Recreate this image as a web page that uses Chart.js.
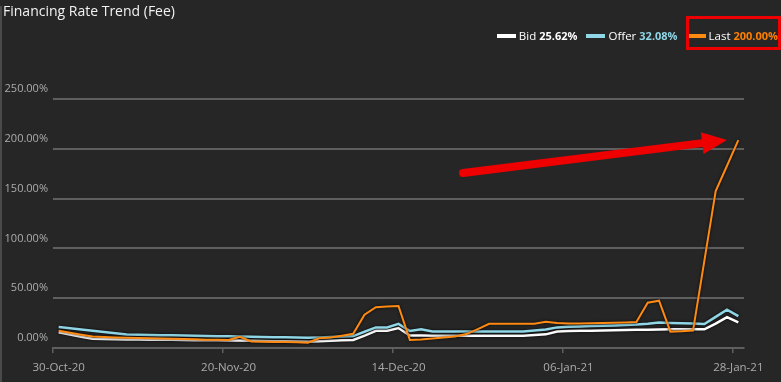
<!DOCTYPE html>
<html>
<head>
<meta charset="utf-8">
<title>Financing Rate Trend (Fee)</title>
<script src="https://cdn.jsdelivr.net/npm/chart.js@4.4.1/dist/chart.umd.min.js"></script>
<style>
  html, body { margin: 0; padding: 0; background: #262626; }
  #wrap { position: relative; width: 781px; height: 382px; overflow: hidden; background: #262626;
          font-family: "Open Sans", "Noto Sans", sans-serif; }
  #edge { position: absolute; left: 0; top: 6px; bottom: 0; width: 2px; background: #4a4a4a; }
  #title { position: absolute; left: 3px; top: 1px; color: #f2f2f2; font-size: 14px; line-height: 20px; }
  #legend { position: absolute; right: 3px; top: 27px; display: flex; align-items: center;
            font-size: 11.5px; line-height: 18px; color: #fff; }
  .item { display: flex; align-items: center; margin-left: 9px; }
  .swatch { width: 19px; height: 4px; margin-right: 3px; }
  .val { font-weight: bold; font-size: 11px; margin-left: 3px; }
  #redbox { position: absolute; left: 686px; top: 16px; width: 95px; height: 34px;
            border: 3px solid #ee0000; box-sizing: border-box; }
  canvas { position: absolute; left: 0; top: 0; }
</style>
</head>
<body>
<div id="wrap">
  <canvas id="rateChart" width="781" height="382"></canvas>
  <div id="edge"></div>
  <div id="title">Financing Rate Trend (Fee)</div>
  <div id="legend"></div>
  <div id="redbox"></div>
</div>
<script>
/* ── DATA ── */
const dates = [
  "30-Oct-20","02-Nov-20","03-Nov-20","04-Nov-20","05-Nov-20","06-Nov-20","09-Nov-20","10-Nov-20",
  "11-Nov-20","12-Nov-20","13-Nov-20","16-Nov-20","17-Nov-20","18-Nov-20","19-Nov-20","20-Nov-20",
  "23-Nov-20","24-Nov-20","25-Nov-20","27-Nov-20","30-Nov-20","01-Dec-20","02-Dec-20","03-Dec-20",
  "04-Dec-20","07-Dec-20","08-Dec-20","09-Dec-20","10-Dec-20","11-Dec-20","14-Dec-20","15-Dec-20",
  "16-Dec-20","17-Dec-20","18-Dec-20","21-Dec-20","22-Dec-20","23-Dec-20","24-Dec-20","28-Dec-20",
  "29-Dec-20","30-Dec-20","31-Dec-20","04-Jan-21","05-Jan-21","06-Jan-21","07-Jan-21","08-Jan-21",
  "11-Jan-21","12-Jan-21","13-Jan-21","14-Jan-21","15-Jan-21","19-Jan-21","20-Jan-21","21-Jan-21",
  "22-Jan-21","25-Jan-21","26-Jan-21","27-Jan-21","28-Jan-21"
];
const tickDates = ["30-Oct-20", "20-Nov-20", "14-Dec-20", "06-Jan-21", "28-Jan-21"];

const bid = [
  15.7, 13.5, 11.3, 9.2, 9.0, 8.8, 8.6, 8.5, 8.4, 8.3, 8.2, 8.0, 7.9, 7.8, 7.7, 7.6,
  7.5, 7.3, 7.1, 6.9, 6.7, 6.5, 6.3, 6.8, 7.3, 7.7, 8.0, 12.5, 17.3, 17.3, 20.0, 12.5,
  12.5, 12.3, 12.3, 12.3, 12.3, 12.3, 12.3, 12.3, 12.3, 12.3, 13.0, 13.7, 16.5, 17.0,
  17.2, 17.4, 17.6, 17.8, 18.0, 18.2, 18.4, 18.6, 18.7, 18.7, 18.7, 18.7, 24.5, 31.0, 25.62
];
const offer = [
  21.2, 19.9, 18.6, 17.3, 16.0, 14.7, 13.5, 13.3, 13.1, 12.9, 12.7, 12.5, 12.3, 12.1, 11.9, 11.7,
  11.5, 11.3, 11.1, 10.9, 10.7, 10.5, 10.3, 10.6, 11.0, 11.5, 12.0, 16.3, 20.7, 20.7, 24.2, 17.0,
  18.7, 16.5, 16.5, 16.5, 16.5, 16.5, 16.5, 16.5, 16.5, 16.5, 17.5, 18.5, 20.7, 21.3,
  21.7, 22.0, 22.3, 22.6, 23.0, 23.5, 24.3, 25.5, 25.2, 24.8, 24.5, 24.0, 31.3, 38.5, 32.08
];
const last = [
  17.3, 15.3, 13.3, 11.5, 11.0, 10.6, 10.3, 10.0, 9.7, 9.5, 9.2, 9.0, 8.7, 8.4, 8.2, 8.0,
  11.3, 6.5, 6.3, 6.1, 5.9, 5.7, 5.3, 9.7, 10.5, 12.3, 14.2, 33.5, 41.0, 41.6, 42.2, 8.0,
  8.5, 9.5, 10.5, 11.5, 14.0, 19.0, 24.3, 24.3, 24.3, 24.3, 24.3, 26.3, 25.0, 24.5,
  24.7, 24.9, 25.1, 25.4, 25.7, 26.2, 45.5, 47.5, 16.4, 16.8, 17.5, 87.5, 157.6, 183.0, 208.8
];

const seriesNames  = ["Bid", "Offer", "Last"];
const legendValues = ["25.62%", "32.08%", "200.00%"];
const lineColors   = ["#ffffff", "#8fd6e6", "#ff8a12"];
const valueColors  = ["#ffffff", "#8fd6e6", "#ff8000"];

// red annotation arrow (category index, percent)
const arrowFrom = [35.7, 175.7];
const arrowTo   = [59.0, 208.8];

/* ── LEGEND (html) ── */
const legend = document.getElementById("legend");
seriesNames.forEach((name, i) => {
    const item = document.createElement("div");
    item.className = "item";
    item.innerHTML = `<span class="swatch" style="background:${lineColors[i]}"></span>${name}<span class="val" style="color:${valueColors[i]}">${legendValues[i]}</span>`;
    legend.appendChild(item);
});

/* ── PLUGINS ── */
const lineShadow = {
    id: "lineShadow",
    beforeDatasetsDraw(chart) {
        const ctx = chart.ctx;
        ctx.save();
        ctx.shadowColor = "rgba(0,0,0,0.85)";
        ctx.shadowBlur = 3;
    },
    afterDatasetsDraw(chart) { chart.ctx.restore(); }
};

const redArrow = {
    id: "redArrow",
    afterDraw(chart) {
        const { ctx, scales: { x, y } } = chart;
        const x0 = x.getPixelForValue(arrowFrom[0]), y0 = y.getPixelForValue(arrowFrom[1]);
        const x1 = x.getPixelForValue(arrowTo[0]),   y1 = y.getPixelForValue(arrowTo[1]);
        const ang = Math.atan2(y1 - y0, x1 - x0);
        const headLen = 25, headHalf = 11;
        const bx = x1 - headLen * Math.cos(ang), by = y1 - headLen * Math.sin(ang);
        ctx.save();
        ctx.strokeStyle = ctx.fillStyle = "#ee0000";
        ctx.lineWidth = 8;
        ctx.lineCap = "round";
        ctx.beginPath();
        ctx.moveTo(x0, y0);
        ctx.lineTo(bx + 2 * Math.cos(ang), by + 2 * Math.sin(ang));
        ctx.stroke();
        ctx.beginPath();
        ctx.moveTo(x1, y1);
        ctx.lineTo(bx - headHalf * Math.sin(ang), by + headHalf * Math.cos(ang));
        ctx.lineTo(bx + headHalf * Math.sin(ang), by - headHalf * Math.cos(ang));
        ctx.closePath();
        ctx.fill();
        ctx.restore();
    }
};

/* ── CHART ── */
const gridGray = "#5f5f5f";
const tickGray = "#acacac";
const font = { family: "'Open Sans', 'Noto Sans', sans-serif", size: 11 };

new Chart(document.getElementById("rateChart"), {
    type: "line",
    data: {
        labels: dates,
        datasets: [
            { label: "Last",  data: last,  borderColor: lineColors[2], borderWidth: 2 },
            { label: "Offer", data: offer, borderColor: lineColors[1], borderWidth: 2.5 },
            { label: "Bid",   data: bid,   borderColor: lineColors[0], borderWidth: 2.5 }
        ]
    },
    options: {
        responsive: false,
        devicePixelRatio: 1,
        animation: false,
        layout: { padding: { top: 99, right: 37, left: 0, bottom: 0 } },
        elements: {
            point: { radius: 0 },
            line: { tension: 0, fill: false, borderJoinStyle: "miter" }
        },
        plugins: { legend: { display: false }, tooltip: { enabled: false } },
        scales: {
            x: {
                type: "category",
                offset: true,
                afterFit: s => { s.height = 34; },
                border: { display: true, color: gridGray, width: 2 },
                grid: {
                    offset: true,
                    drawOnChartArea: false,
                    drawTicks: true,
                    tickLength: 5,
                    lineWidth: 1.5,
                    color: c => tickDates.includes(dates[c.index]) ? gridGray : "rgba(0,0,0,0)"
                },
                ticks: {
                    autoSkip: false,
                    maxRotation: 0,
                    minRotation: 0,
                    padding: 8,
                    color: tickGray,
                    font: { family: font.family, size: 11.5 },
                    callback: (v, i) => tickDates.includes(dates[i]) ? dates[i] : ""
                }
            },
            y: {
                min: 0,
                max: 250,
                afterFit: s => { s.width = 53; },
                border: { display: false },
                grid: { color: gridGray, lineWidth: 2, drawTicks: false },
                ticks: {
                    stepSize: 50,
                    padding: 5,
                    labelOffset: -10,
                    color: tickGray,
                    font: font,
                    callback: v => v.toFixed(2) + "%"
                }
            }
        }
    },
    plugins: [lineShadow, redArrow]
});
</script>
</body>
</html>
